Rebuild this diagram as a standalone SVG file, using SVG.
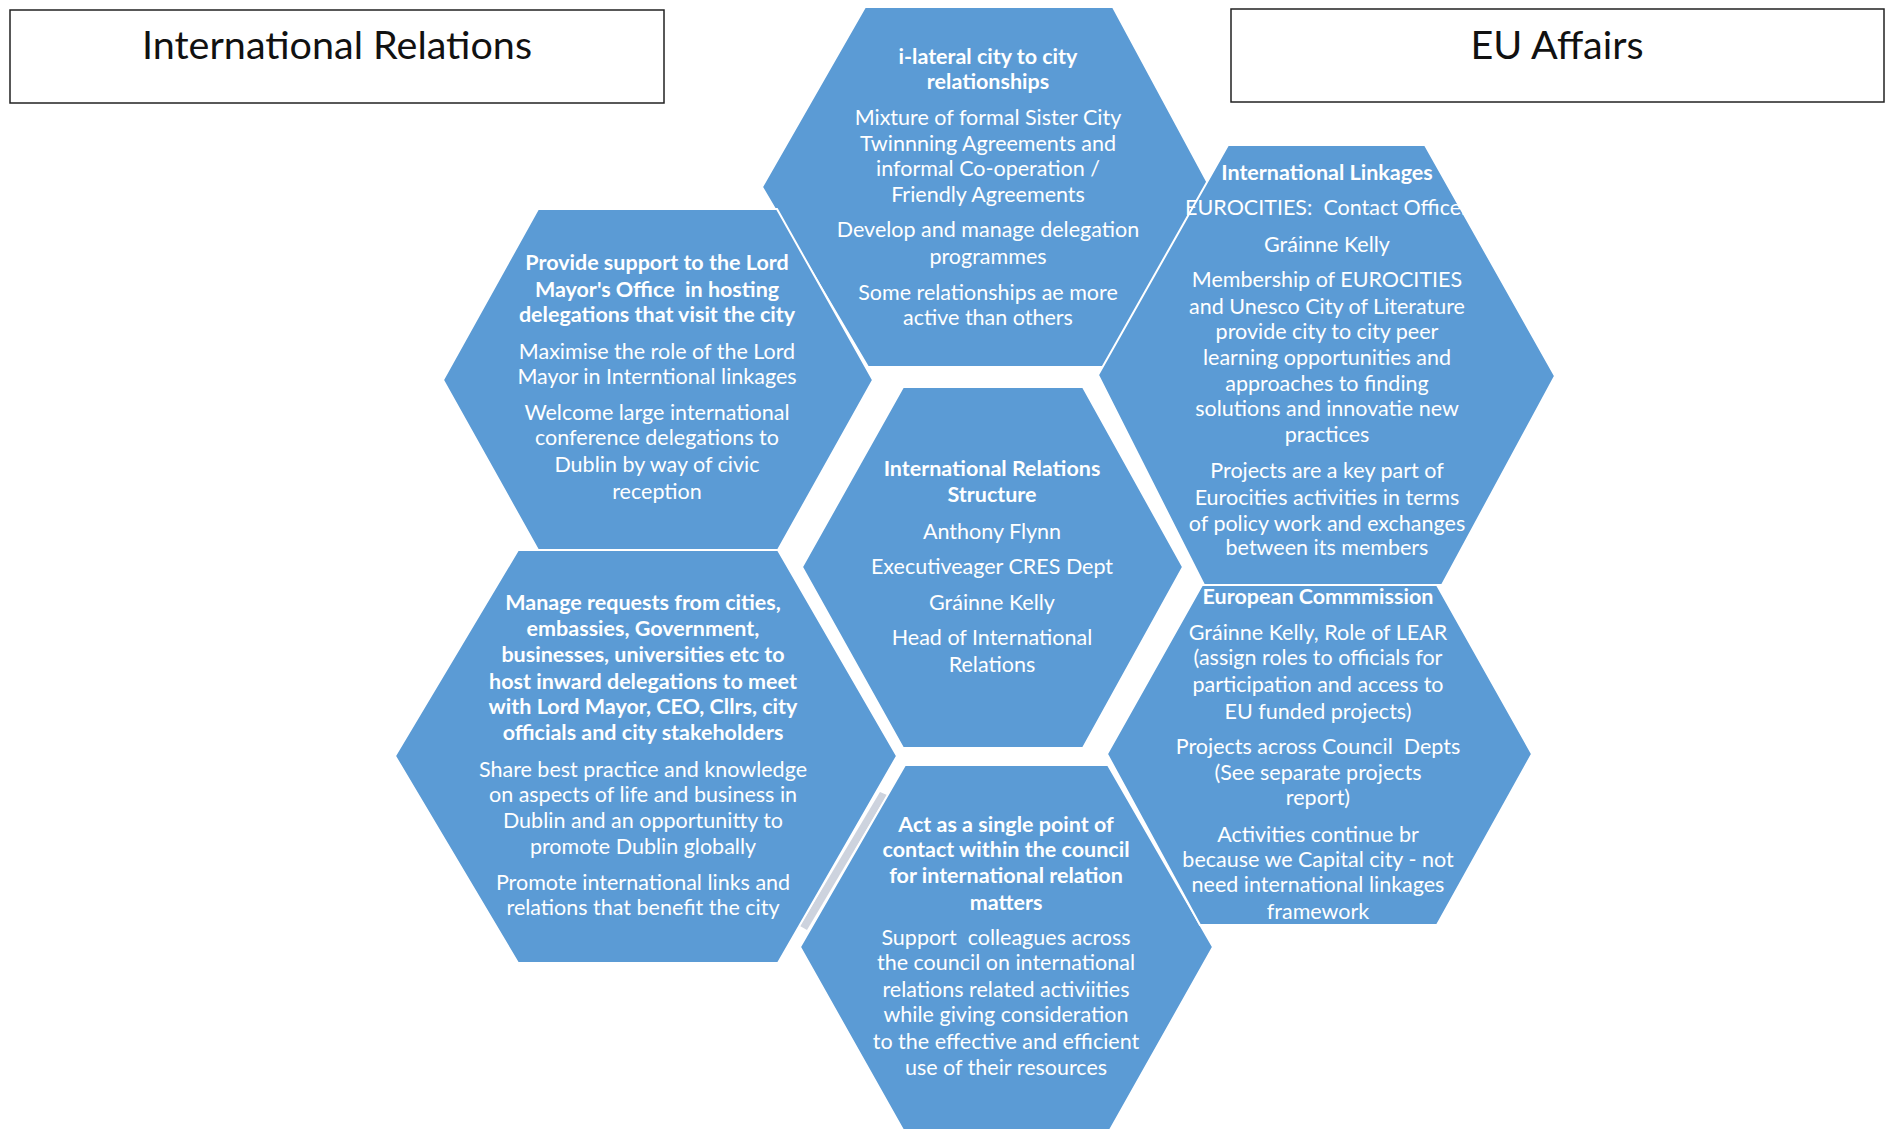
<svg xmlns="http://www.w3.org/2000/svg" width="1885" height="1132" viewBox="0 0 1885 1132">
<style>
.hex{fill:#5b9bd5;stroke:#ffffff;stroke-width:2}
.t{font-family:Lato,"Liberation Sans",sans-serif;font-size:21.5px;fill:#ffffff;text-anchor:middle;white-space:pre}
.b{font-weight:bold}
.title{font-family:Lato,"Liberation Sans",sans-serif;font-size:39.5px;fill:#111111;text-anchor:middle}
.box{fill:#ffffff;stroke:#222222;stroke-width:1.5}
</style>
<rect width="1885" height="1132" fill="#ffffff"/>
<g id="title-ir">
<rect class="box" x="10" y="10" width="654" height="93"/>
<text class="title" x="337" y="59">International Relations</text>
</g>
<g id="title-eu">
<rect class="box" x="1231" y="9" width="653" height="93"/>
<text class="title" x="1557" y="59">EU Affairs</text>
</g>
<g id="connectors">
<polygon points="880,792 887,795 807,930 800,926" fill="#cdd3de"/>
</g>
<g id="hex-bilateral">
<polygon class="hex" points="865,7 1113,7 1210,187 1105,367 868,367 762,187"/>
<text class="t"><tspan class="b" x="988" y="64">i-lateral city to city</tspan><tspan class="b" x="988" y="89">relationships</tspan><tspan x="988" y="125">Mixture of formal Sister City</tspan><tspan x="988" y="151">Twinnning Agreements and</tspan><tspan x="988" y="176">informal Co-operation /</tspan><tspan x="988" y="202">Friendly Agreements</tspan><tspan x="988" y="237">Develop and manage delegation</tspan><tspan x="988" y="264">programmes</tspan><tspan x="988" y="300">Some relationships ae more</tspan><tspan x="988" y="325">active than others</tspan></text>
</g>
<g id="hex-linkages">
<polygon class="hex" points="1228,145 1425,145 1555,376 1442,585 1204,585 1098,375"/>
<text class="t" xml:space="preserve"><tspan class="b" x="1327" y="180">International Linkages</tspan><tspan x="1327" y="215">EUROCITIES:  Contact Officer</tspan><tspan x="1327" y="252">Gráinne Kelly</tspan><tspan x="1327" y="287">Membership of EUROCITIES</tspan><tspan x="1327" y="314">and Unesco City of Literature</tspan><tspan x="1327" y="339">provide city to city peer</tspan><tspan x="1327" y="365">learning opportunities and</tspan><tspan x="1327" y="391">approaches to finding</tspan><tspan x="1327" y="416">solutions and innovatie new</tspan><tspan x="1327" y="442">practices</tspan><tspan x="1327" y="478">Projects are a key part of</tspan><tspan x="1327" y="505">Eurocities activities in terms</tspan><tspan x="1327" y="531">of policy work and exchanges</tspan><tspan x="1327" y="555">between its members</tspan></text>
</g>
<g id="hex-lordmayor">
<polygon class="hex" points="538,209 777,209 873,380 778,550 538,550 443,380"/>
<text class="t" xml:space="preserve"><tspan class="b" x="657" y="270">Provide support to the Lord</tspan><tspan class="b" x="657" y="297">Mayor's Office  in hosting</tspan><tspan class="b" x="657" y="322">delegations that visit the city</tspan><tspan x="657" y="359">Maximise the role of the Lord</tspan><tspan x="657" y="384">Mayor in Interntional linkages</tspan><tspan x="657" y="420">Welcome large international</tspan><tspan x="657" y="445">conference delegations to</tspan><tspan x="657" y="472">Dublin by way of civic</tspan><tspan x="657" y="499">reception</tspan></text>
</g>
<g id="hex-requests">
<polygon class="hex" points="518,550 778,550 897,756 778,963 518,963 395,756"/>
<text class="t"><tspan class="b" x="643" y="610">Manage requests from cities,</tspan><tspan class="b" x="643" y="636">embassies, Government,</tspan><tspan class="b" x="643" y="662">businesses, universities etc to</tspan><tspan class="b" x="643" y="689">host inward delegations to meet</tspan><tspan class="b" x="643" y="714">with Lord Mayor, CEO, Cllrs, city</tspan><tspan class="b" x="643" y="740">officials and city stakeholders</tspan><tspan x="643" y="777">Share best practice and knowledge</tspan><tspan x="643" y="802">on aspects of life and business in</tspan><tspan x="643" y="828">Dublin and an opportunitty to</tspan><tspan x="643" y="854">promote Dublin globally</tspan><tspan x="643" y="890">Promote international links and</tspan><tspan x="643" y="915">relations that benefit the city</tspan></text>
</g>
<g id="hex-structure">
<polygon class="hex" points="903,387 1083,387 1183,567 1083,748 903,748 802,567"/>
<text class="t"><tspan class="b" x="992" y="476">International Relations</tspan><tspan class="b" x="992" y="502">Structure</tspan><tspan x="992" y="539">Anthony Flynn</tspan><tspan x="992" y="574">Executiveager CRES Dept</tspan><tspan x="992" y="610">Gráinne Kelly</tspan><tspan x="992" y="645">Head of International</tspan><tspan x="992" y="672">Relations</tspan></text>
</g>
<g id="hex-contact">
<polygon class="hex" points="905,765 1108,765 1213,947 1110,1130 903,1130 800,947"/>
<text class="t" xml:space="preserve"><tspan class="b" x="1006" y="832">Act as a single point of</tspan><tspan class="b" x="1006" y="857">contact within the council</tspan><tspan class="b" x="1006" y="883">for international relation</tspan><tspan class="b" x="1006" y="910">matters</tspan><tspan x="1006" y="945">Support  colleagues across</tspan><tspan x="1006" y="970">the council on international</tspan><tspan x="1006" y="997">relations related activiities</tspan><tspan x="1006" y="1022">while giving consideration</tspan><tspan x="1006" y="1049">to the effective and efficient</tspan><tspan x="1006" y="1075">use of their resources</tspan></text>
</g>
<g id="hex-commission">
<polygon class="hex" points="1202,585 1437,585 1532,754 1437,925 1200,925 1107,754"/>
<text class="t" xml:space="preserve"><tspan class="b" x="1318" y="604">European Commmission</tspan><tspan x="1318" y="640">Gráinne Kelly, Role of LEAR</tspan><tspan x="1318" y="665">(assign roles to officials for</tspan><tspan x="1318" y="692">participation and access to</tspan><tspan x="1318" y="719">EU funded projects)</tspan><tspan x="1318" y="754">Projects across Council  Depts</tspan><tspan x="1318" y="780">(See separate projects</tspan><tspan x="1318" y="805">report)</tspan><tspan x="1318" y="842">Activities continue br</tspan><tspan x="1318" y="867">because we Capital city - not</tspan><tspan x="1318" y="892">need international linkages</tspan><tspan x="1318" y="919">framework</tspan></text>
</g>
</svg>
